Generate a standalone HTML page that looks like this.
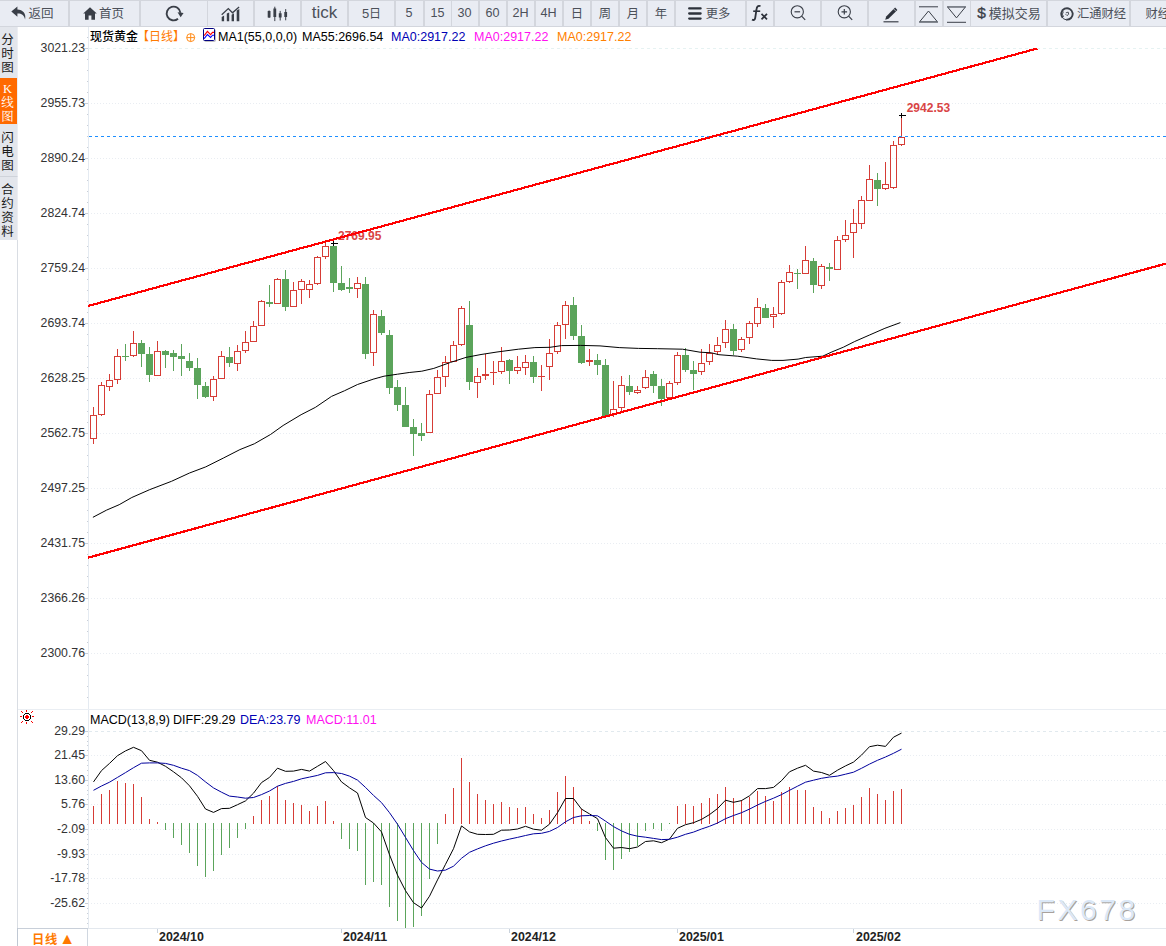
<!DOCTYPE html>
<html lang="zh"><head><meta charset="utf-8"><title>现货黄金 日线</title>
<style>
html,body{margin:0;padding:0;background:#fff}
body{width:1166px;height:946px;position:relative;overflow:hidden;font-family:"Liberation Sans","Noto Sans CJK SC",sans-serif;color:#333}
#tb{position:absolute;left:0;top:0;width:1166px;height:27px;background:#d3d6dd;overflow:hidden}
.btn{position:absolute;top:1px;height:25px;box-sizing:border-box;background:#e9ecf3;display:flex;align-items:center;justify-content:center;color:#4b5059;white-space:nowrap;overflow:hidden}
.btn .tx{position:relative;top:-1px}
.btn svg{display:block;flex:none;margin-right:2px}
#side{position:absolute;left:0;top:27px;width:17px}
#side div{border-right:1px solid #eceef3;width:18px;padding-right:2px;text-align:center;font-size:12.5px;line-height:14px;color:#1a1a1a;font-weight:400;background:#e3e6ec;box-sizing:border-box}
.yl{position:absolute;left:18px;width:67px;text-align:right;font-size:12.3px;line-height:14px;height:14px;color:#333;white-space:nowrap}
.dt{position:absolute;top:930px;font-size:12.4px;line-height:14px;font-weight:bold;color:#222;white-space:nowrap}
.t{position:absolute;white-space:nowrap;font-size:12.5px;line-height:14px}
svg.full{position:absolute;left:0;top:0}
</style></head><body>
<div id="tb">
<div class="btn" style="left:0px;width:68px;padding-right:3px"><svg style="margin-right:1px;margin-top:-2px" width="16" height="14" viewBox="0 0 15 13"><path d="M6 0.5 L0.3 5.2 L6 10 V7 C9.5 6.8 12 8 13.2 12.5 C14.5 7 11 3.4 6 3.2 Z" fill="#3a3f48"/></svg><span class="tx" style="font-size:12.5px">返回</span></div>
<div class="btn" style="left:70px;width:69px;padding-right:2px"><svg style="margin-right:2px" width="14" height="13" viewBox="0 0 14 13"><path d="M7 0.3 L0.2 6.6 H2 V12.8 H5.6 V8.6 H8.4 V12.8 H12 V6.6 H13.8 Z" fill="#3a3f48"/></svg><span class="tx" style="font-size:12.5px">首页</span></div>
<div class="btn" style="left:141px;width:66px;"><svg style="margin-right:1px" width="20" height="19" viewBox="0 0 18 17"><path d="M14.78 7.96 A6.2 6.2 0 1 0 12.6 13.25" fill="none" stroke="#3a3f48" stroke-width="1.7"/><path d="M12.2 7.4 L17.6 8.0 L15.0 11.8 Z" fill="#3a3f48"/></svg></div>
<div class="btn" style="left:208px;width:45px;"><svg style="margin-right:1px" width="19" height="16" viewBox="0 0 19 16"><path d="M0.7 8.7 L7.3 2.6 L11.5 6.8 L18.1 1.1" fill="none" stroke="#3a3f48" stroke-width="1.3"/><path d="M0.7 15.2V10.9L3.1 9.6V15.2Z M5.8 15.2V7.4L8.2 6.6V15.2Z M10.6 15.2V8.8L13 7.2V15.2Z M15.7 15.2V4.6L18.3 2.9V15.2Z" fill="#3a3f48"/></svg></div>
<div class="btn" style="left:255px;width:45px;"><svg style="margin-right:1px" width="21" height="16" viewBox="0 0 21 16"><path d="M2.1 4.4v7.6M7.8 0.7v14.4M13.2 4.9v9.6M18.7 3.1v11.2" stroke="#3a3f48" stroke-width="1" fill="none"/><path d="M2.1 4.9v6.6M7.8 2.5v8.4M13.2 7.3v4.2M18.7 6.1v5" stroke="#3a3f48" stroke-width="2.8" fill="none"/></svg></div>
<div class="btn" style="left:302px;width:45px;"><span class="tx" style="font-size:17px">tick</span></div>
<div class="btn" style="left:349px;width:45px;"><span class="tx" style="font-size:13px">5<span style="font-size:12px">日</span></span></div>
<div class="btn" style="left:396px;width:27px;padding-right:1px"><span class="tx" style="font-size:12.6px">5</span></div>
<div class="btn" style="left:425px;width:26px;padding-right:1px"><span class="tx" style="font-size:12.6px">15</span></div>
<div class="btn" style="left:452px;width:26px;padding-right:1px"><span class="tx" style="font-size:12.6px">30</span></div>
<div class="btn" style="left:480px;width:26px;padding-right:1px"><span class="tx" style="font-size:12.6px">60</span></div>
<div class="btn" style="left:508px;width:26px;padding-right:1px"><span class="tx" style="font-size:12.6px">2H</span></div>
<div class="btn" style="left:536px;width:26px;padding-right:1px"><span class="tx" style="font-size:12.6px">4H</span></div>
<div class="btn" style="left:564px;width:26px;"><span class="tx" style="font-size:12.3px">日</span></div>
<div class="btn" style="left:592px;width:26px;"><span class="tx" style="font-size:12.3px">周</span></div>
<div class="btn" style="left:620px;width:26px;"><span class="tx" style="font-size:12.3px">月</span></div>
<div class="btn" style="left:648px;width:26px;"><span class="tx" style="font-size:12.3px">年</span></div>
<div class="btn" style="left:676px;width:69px;padding-right:4px"><svg style="margin-right:4px;margin-left:1px" width="14" height="13" viewBox="0 0 14 13"><path d="M1.2 1.4h11.4M1.2 6.5h11.4M1.2 11.6h11.4" stroke="#2d323b" stroke-width="2.3" stroke-linecap="round"/></svg><span class="tx" style="font-size:12.3px">更多</span></div>
<div class="btn" style="left:747px;width:26px;"><svg style="margin-top:-2px;margin-right:1px" width="18" height="16" viewBox="0 0 18 16"><path d="M9.5 1.2 C6.5 0.2 5.8 2 5.5 4.5 L4.2 13 C3.9 15 2.6 15.4 1 14.6" fill="none" stroke="#2d323b" stroke-width="1.8"/><path d="M2.2 6.2h7" stroke="#2d323b" stroke-width="1.6"/><path d="M10.5 8.8l5.5 5.5M16 8.8l-5.5 5.5" stroke="#2d323b" stroke-width="1.7"/></svg></div>
<div class="btn" style="left:775px;width:45px;"><svg style="margin-left:3px;margin-top:-1px" width="17" height="16" viewBox="0 0 17 16"><circle cx="7.3" cy="6.8" r="6.1" fill="none" stroke="#3a3f48" stroke-width="1.1"/><path d="M11.6 11.2L15.2 14.8" stroke="#3a3f48" stroke-width="1.2"/><path d="M4.5 6.8h5.6" stroke="#3a3f48" stroke-width="1.2"/></svg></div>
<div class="btn" style="left:822px;width:45px;"><svg style="margin-left:3px;margin-top:-1px" width="17" height="16" viewBox="0 0 17 16"><circle cx="7.3" cy="6.8" r="6.1" fill="none" stroke="#3a3f48" stroke-width="1.1"/><path d="M11.6 11.2L15.2 14.8" stroke="#3a3f48" stroke-width="1.2"/><path d="M4.5 6.8h5.6M7.3 4v5.6" stroke="#3a3f48" stroke-width="1.2"/></svg></div>
<div class="btn" style="left:869px;width:45px;"><svg style="margin-top:1px" width="16" height="17" viewBox="0 0 16 17"><path d="M2.2 13.8 L3.2 10.5 L12.1 1.6 L14.4 3.9 L5.5 12.8 Z" fill="#2d323b"/><path d="M10.6 2.9 L13.1 5.4" stroke="#e9ecf3" stroke-width="0.7"/><path d="M0.5 15.8h15" stroke="#3a3f48" stroke-width="1.2"/></svg></div>
<div class="btn" style="left:916px;width:26px;"><svg width="21" height="18" viewBox="0 0 21 18"><path d="M1 1.8h19" stroke="#3a3f48" stroke-width="1"/><path d="M10.5 6 L1.6 16.8 H19.4 Z" fill="none" stroke="#3a3f48" stroke-width="1"/><path d="M1 17.3h19" stroke="#7d828b" stroke-width="1.2"/></svg></div>
<div class="btn" style="left:944px;width:26px;"><svg width="21" height="18" viewBox="0 0 21 18"><path d="M1 17.3h19" stroke="#3a3f48" stroke-width="1"/><path d="M10.5 12.9 L1.6 2 H19.4 Z" fill="none" stroke="#3a3f48" stroke-width="1"/><path d="M1 1.6h19" stroke="#7d828b" stroke-width="1.2"/></svg></div>
<div class="btn" style="left:971px;width:75px;"><span style="font:normal 15.5px 'Liberation Sans',sans-serif;-webkit-text-stroke:0.35px #3a3f48;color:#3a3f48;margin-right:3px;margin-left:1px;position:relative;top:-0.5px">$</span><span class="tx" style="font-size:13px">模拟交易</span></div>
<div class="btn" style="left:1048px;width:81px;padding-left:9px"><svg style="margin-right:2px" width="15" height="14" viewBox="0 0 15 14"><path d="M2.6 10.6 A5.7 5.7 0 1 1 6.2 12.6" fill="none" stroke="#3a3f48" stroke-width="1.9"/><path d="M6.6 12.9 A6 6 0 0 1 1.6 9.2" fill="none" stroke="#3a3f48" stroke-width="1"/><path d="M3.6 9.8 A4 4 0 0 1 3.4 4.6" fill="none" stroke="#3a3f48" stroke-width="0.9"/><path d="M5.8 5.9 L8.2 5.1 L8.7 7.2 L7 8.6 L5.6 7.2" fill="none" stroke="#3a3f48" stroke-width="0.9"/></svg><span class="tx" style="font-size:12.3px">汇通财经</span></div>
<div class="btn" style="left:1131px;width:60px;justify-content:flex-start;padding-left:14.5px"><span class="tx" style="font-size:12.3px">财经</span></div>
</div>
<div id="side">
<div style="height:51px;padding-top:6px">分<br>时<br>图</div>
<div style="height:46px;padding-top:4px;background:#ff6a00;color:#fff;font-family:'Liberation Serif','Noto Serif CJK SC',serif">K<br>线<br>图</div>
<div style="height:53px;padding-top:7px;border-bottom:1px solid #cfd3da">闪<br>电<br>图</div>
<div style="height:63px;padding-top:6px">合<br>约<br>资<br>料</div>
</div>
<svg class="full" width="1166" height="946" viewBox="0 0 1166 946" shape-rendering="crispEdges">
<line x1="89" y1="48.5" x2="1166" y2="48.5" stroke="#e6f2f2" stroke-dasharray="3 3"/>
<line x1="91" y1="103.5" x2="1166" y2="103.5" stroke="#e9edf2" stroke-dasharray="1 2"/>
<line x1="91" y1="158.5" x2="1166" y2="158.5" stroke="#e9edf2" stroke-dasharray="1 2"/>
<line x1="91" y1="213.5" x2="1166" y2="213.5" stroke="#e9edf2" stroke-dasharray="1 2"/>
<line x1="91" y1="268.5" x2="1166" y2="268.5" stroke="#e9edf2" stroke-dasharray="1 2"/>
<line x1="91" y1="323.5" x2="1166" y2="323.5" stroke="#e9edf2" stroke-dasharray="1 2"/>
<line x1="91" y1="378.5" x2="1166" y2="378.5" stroke="#e9edf2" stroke-dasharray="1 2"/>
<line x1="91" y1="433.5" x2="1166" y2="433.5" stroke="#e9edf2" stroke-dasharray="1 2"/>
<line x1="91" y1="488.5" x2="1166" y2="488.5" stroke="#e9edf2" stroke-dasharray="1 2"/>
<line x1="91" y1="543.5" x2="1166" y2="543.5" stroke="#e9edf2" stroke-dasharray="1 2"/>
<line x1="91" y1="598.5" x2="1166" y2="598.5" stroke="#e9edf2" stroke-dasharray="1 2"/>
<line x1="91" y1="653.5" x2="1166" y2="653.5" stroke="#e9edf2" stroke-dasharray="1 2"/>
<line x1="88.5" y1="27" x2="88.5" y2="928" stroke="#e4eaf1"/>
<rect x="87" y="37" width="1" height="1" fill="#c9ced6"/>
<rect x="85" y="48" width="3" height="1" fill="#c9ced6"/>
<rect x="87" y="59" width="1" height="1" fill="#c9ced6"/>
<rect x="87" y="70" width="1" height="1" fill="#c9ced6"/>
<rect x="87" y="81" width="1" height="1" fill="#c9ced6"/>
<rect x="87" y="92" width="1" height="1" fill="#c9ced6"/>
<rect x="85" y="103" width="3" height="1" fill="#c9ced6"/>
<rect x="87" y="114" width="1" height="1" fill="#c9ced6"/>
<rect x="87" y="125" width="1" height="1" fill="#c9ced6"/>
<rect x="87" y="136" width="1" height="1" fill="#c9ced6"/>
<rect x="87" y="147" width="1" height="1" fill="#c9ced6"/>
<rect x="85" y="158" width="3" height="1" fill="#c9ced6"/>
<rect x="87" y="169" width="1" height="1" fill="#c9ced6"/>
<rect x="87" y="180" width="1" height="1" fill="#c9ced6"/>
<rect x="87" y="191" width="1" height="1" fill="#c9ced6"/>
<rect x="87" y="202" width="1" height="1" fill="#c9ced6"/>
<rect x="85" y="213" width="3" height="1" fill="#c9ced6"/>
<rect x="87" y="224" width="1" height="1" fill="#c9ced6"/>
<rect x="87" y="235" width="1" height="1" fill="#c9ced6"/>
<rect x="87" y="246" width="1" height="1" fill="#c9ced6"/>
<rect x="87" y="257" width="1" height="1" fill="#c9ced6"/>
<rect x="85" y="268" width="3" height="1" fill="#c9ced6"/>
<rect x="87" y="279" width="1" height="1" fill="#c9ced6"/>
<rect x="87" y="290" width="1" height="1" fill="#c9ced6"/>
<rect x="87" y="301" width="1" height="1" fill="#c9ced6"/>
<rect x="87" y="312" width="1" height="1" fill="#c9ced6"/>
<rect x="85" y="323" width="3" height="1" fill="#c9ced6"/>
<rect x="87" y="334" width="1" height="1" fill="#c9ced6"/>
<rect x="87" y="345" width="1" height="1" fill="#c9ced6"/>
<rect x="87" y="356" width="1" height="1" fill="#c9ced6"/>
<rect x="87" y="367" width="1" height="1" fill="#c9ced6"/>
<rect x="85" y="378" width="3" height="1" fill="#c9ced6"/>
<rect x="87" y="389" width="1" height="1" fill="#c9ced6"/>
<rect x="87" y="400" width="1" height="1" fill="#c9ced6"/>
<rect x="87" y="411" width="1" height="1" fill="#c9ced6"/>
<rect x="87" y="422" width="1" height="1" fill="#c9ced6"/>
<rect x="85" y="433" width="3" height="1" fill="#c9ced6"/>
<rect x="87" y="444" width="1" height="1" fill="#c9ced6"/>
<rect x="87" y="455" width="1" height="1" fill="#c9ced6"/>
<rect x="87" y="466" width="1" height="1" fill="#c9ced6"/>
<rect x="87" y="477" width="1" height="1" fill="#c9ced6"/>
<rect x="85" y="488" width="3" height="1" fill="#c9ced6"/>
<rect x="87" y="499" width="1" height="1" fill="#c9ced6"/>
<rect x="87" y="510" width="1" height="1" fill="#c9ced6"/>
<rect x="87" y="521" width="1" height="1" fill="#c9ced6"/>
<rect x="87" y="532" width="1" height="1" fill="#c9ced6"/>
<rect x="85" y="543" width="3" height="1" fill="#c9ced6"/>
<rect x="87" y="554" width="1" height="1" fill="#c9ced6"/>
<rect x="87" y="565" width="1" height="1" fill="#c9ced6"/>
<rect x="87" y="576" width="1" height="1" fill="#c9ced6"/>
<rect x="87" y="587" width="1" height="1" fill="#c9ced6"/>
<rect x="85" y="598" width="3" height="1" fill="#c9ced6"/>
<rect x="87" y="609" width="1" height="1" fill="#c9ced6"/>
<rect x="87" y="620" width="1" height="1" fill="#c9ced6"/>
<rect x="87" y="631" width="1" height="1" fill="#c9ced6"/>
<rect x="87" y="642" width="1" height="1" fill="#c9ced6"/>
<rect x="85" y="653" width="3" height="1" fill="#c9ced6"/>
<rect x="87" y="664" width="1" height="1" fill="#c9ced6"/>
<rect x="87" y="675" width="1" height="1" fill="#c9ced6"/>
<rect x="87" y="686" width="1" height="1" fill="#c9ced6"/>
<rect x="87" y="697" width="1" height="1" fill="#c9ced6"/>
<line x1="89" y1="731.5" x2="1166" y2="731.5" stroke="#e1e9ee" stroke-dasharray="3 3"/>
<line x1="91" y1="755.5" x2="1166" y2="755.5" stroke="#e9edf2" stroke-dasharray="1 2"/>
<line x1="91" y1="780.5" x2="1166" y2="780.5" stroke="#e9edf2" stroke-dasharray="1 2"/>
<line x1="91" y1="804.5" x2="1166" y2="804.5" stroke="#e9edf2" stroke-dasharray="1 2"/>
<line x1="91" y1="829.5" x2="1166" y2="829.5" stroke="#e9edf2" stroke-dasharray="1 2"/>
<line x1="91" y1="854.5" x2="1166" y2="854.5" stroke="#e9edf2" stroke-dasharray="1 2"/>
<line x1="91" y1="878.5" x2="1166" y2="878.5" stroke="#e9edf2" stroke-dasharray="1 2"/>
<line x1="91" y1="903.5" x2="1166" y2="903.5" stroke="#e9edf2" stroke-dasharray="1 2"/>
<rect x="85" y="731" width="3" height="1" fill="#c9ced6"/>
<rect x="87" y="736" width="1" height="1" fill="#c9ced6"/>
<rect x="87" y="741" width="1" height="1" fill="#c9ced6"/>
<rect x="87" y="745" width="1" height="1" fill="#c9ced6"/>
<rect x="87" y="750" width="1" height="1" fill="#c9ced6"/>
<rect x="85" y="755" width="3" height="1" fill="#c9ced6"/>
<rect x="87" y="760" width="1" height="1" fill="#c9ced6"/>
<rect x="87" y="765" width="1" height="1" fill="#c9ced6"/>
<rect x="87" y="770" width="1" height="1" fill="#c9ced6"/>
<rect x="87" y="775" width="1" height="1" fill="#c9ced6"/>
<rect x="85" y="780" width="3" height="1" fill="#c9ced6"/>
<rect x="87" y="785" width="1" height="1" fill="#c9ced6"/>
<rect x="87" y="790" width="1" height="1" fill="#c9ced6"/>
<rect x="87" y="794" width="1" height="1" fill="#c9ced6"/>
<rect x="87" y="799" width="1" height="1" fill="#c9ced6"/>
<rect x="85" y="804" width="3" height="1" fill="#c9ced6"/>
<rect x="87" y="809" width="1" height="1" fill="#c9ced6"/>
<rect x="87" y="814" width="1" height="1" fill="#c9ced6"/>
<rect x="87" y="819" width="1" height="1" fill="#c9ced6"/>
<rect x="87" y="824" width="1" height="1" fill="#c9ced6"/>
<rect x="85" y="829" width="3" height="1" fill="#c9ced6"/>
<rect x="87" y="834" width="1" height="1" fill="#c9ced6"/>
<rect x="87" y="839" width="1" height="1" fill="#c9ced6"/>
<rect x="87" y="844" width="1" height="1" fill="#c9ced6"/>
<rect x="87" y="849" width="1" height="1" fill="#c9ced6"/>
<rect x="85" y="854" width="3" height="1" fill="#c9ced6"/>
<rect x="87" y="859" width="1" height="1" fill="#c9ced6"/>
<rect x="87" y="864" width="1" height="1" fill="#c9ced6"/>
<rect x="87" y="868" width="1" height="1" fill="#c9ced6"/>
<rect x="87" y="873" width="1" height="1" fill="#c9ced6"/>
<rect x="85" y="878" width="3" height="1" fill="#c9ced6"/>
<rect x="87" y="883" width="1" height="1" fill="#c9ced6"/>
<rect x="87" y="888" width="1" height="1" fill="#c9ced6"/>
<rect x="87" y="893" width="1" height="1" fill="#c9ced6"/>
<rect x="87" y="898" width="1" height="1" fill="#c9ced6"/>
<rect x="85" y="903" width="3" height="1" fill="#c9ced6"/>
<rect x="87" y="908" width="1" height="1" fill="#c9ced6"/>
<rect x="87" y="913" width="1" height="1" fill="#c9ced6"/>
<rect x="87" y="918" width="1" height="1" fill="#c9ced6"/>
<rect x="87" y="923" width="1" height="1" fill="#c9ced6"/>
<line x1="18" y1="709.5" x2="1166" y2="709.5" stroke="#eaeef3"/>
<line x1="18" y1="928.5" x2="1166" y2="928.5" stroke="#e3e8ee"/>
<line x1="17.5" y1="240" x2="17.5" y2="946" stroke="#d9dde3"/>
<line x1="87.5" y1="928" x2="87.5" y2="946" stroke="#d0d7e0"/>
<line x1="17" y1="928.5" x2="88" y2="928.5" stroke="#c8cfd9"/>
<line x1="17.5" y1="928" x2="17.5" y2="946" stroke="#c0c8d3"/>
<line x1="157.5" y1="929" x2="157.5" y2="933" stroke="#c9d2dc"/>
<line x1="341.5" y1="929" x2="341.5" y2="933" stroke="#c9d2dc"/>
<line x1="509.5" y1="929" x2="509.5" y2="933" stroke="#c9d2dc"/>
<line x1="677.5" y1="929" x2="677.5" y2="933" stroke="#c9d2dc"/>
<line x1="853.5" y1="929" x2="853.5" y2="933" stroke="#c9d2dc"/>
<rect x="93" y="407" width="1" height="8" fill="#d63c36"/>
<rect x="93" y="439" width="1" height="5" fill="#d63c36"/>
<rect x="90.5" y="415.5" width="6" height="23" fill="none" stroke="#d63c36"/>
<rect x="101" y="382" width="1" height="3" fill="#d63c36"/>
<rect x="101" y="415" width="1" height="1" fill="#d63c36"/>
<rect x="98.5" y="385.5" width="6" height="29" fill="none" stroke="#d63c36"/>
<rect x="109" y="374" width="1" height="6" fill="#d63c36"/>
<rect x="109" y="387" width="1" height="4" fill="#d63c36"/>
<rect x="106.5" y="380.5" width="6" height="6" fill="none" stroke="#d63c36"/>
<rect x="117" y="349" width="1" height="7" fill="#d63c36"/>
<rect x="117" y="380" width="1" height="4" fill="#d63c36"/>
<rect x="114.5" y="356.5" width="6" height="23" fill="none" stroke="#d63c36"/>
<rect x="125" y="344" width="1" height="17" fill="#5ba45b"/>
<rect x="122" y="356" width="7" height="1" fill="#5ba45b"/>
<rect x="133" y="331" width="1" height="12" fill="#d63c36"/>
<rect x="133" y="356" width="1" height="1" fill="#d63c36"/>
<rect x="130.5" y="343.5" width="6" height="12" fill="none" stroke="#d63c36"/>
<rect x="141" y="340" width="1" height="27" fill="#5ba45b"/>
<rect x="138" y="343" width="7" height="11" fill="#5ba45b"/>
<rect x="149" y="347" width="1" height="35" fill="#5ba45b"/>
<rect x="146" y="354" width="7" height="21" fill="#5ba45b"/>
<rect x="157" y="341" width="1" height="10" fill="#d63c36"/>
<rect x="154.5" y="351.5" width="6" height="24" fill="none" stroke="#d63c36"/>
<rect x="165" y="350" width="1" height="18" fill="#5ba45b"/>
<rect x="162" y="351" width="7" height="4" fill="#5ba45b"/>
<rect x="173" y="350" width="1" height="21" fill="#5ba45b"/>
<rect x="170" y="353" width="7" height="4" fill="#5ba45b"/>
<rect x="181" y="344" width="1" height="32" fill="#5ba45b"/>
<rect x="178" y="356" width="7" height="3" fill="#5ba45b"/>
<rect x="189" y="353" width="1" height="18" fill="#5ba45b"/>
<rect x="186" y="361" width="7" height="7" fill="#5ba45b"/>
<rect x="197" y="358" width="1" height="41" fill="#5ba45b"/>
<rect x="194" y="368" width="7" height="17" fill="#5ba45b"/>
<rect x="205" y="382" width="1" height="16" fill="#5ba45b"/>
<rect x="202" y="386" width="7" height="11" fill="#5ba45b"/>
<rect x="213" y="376" width="1" height="3" fill="#d63c36"/>
<rect x="213" y="397" width="1" height="4" fill="#d63c36"/>
<rect x="210.5" y="379.5" width="6" height="17" fill="none" stroke="#d63c36"/>
<rect x="221" y="351" width="1" height="5" fill="#d63c36"/>
<rect x="218.5" y="356.5" width="6" height="22" fill="none" stroke="#d63c36"/>
<rect x="229" y="347" width="1" height="20" fill="#5ba45b"/>
<rect x="226" y="357" width="7" height="6" fill="#5ba45b"/>
<rect x="237" y="345" width="1" height="6" fill="#d63c36"/>
<rect x="237" y="364" width="1" height="7" fill="#d63c36"/>
<rect x="234.5" y="351.5" width="6" height="12" fill="none" stroke="#d63c36"/>
<rect x="245" y="331" width="1" height="11" fill="#d63c36"/>
<rect x="245" y="351" width="1" height="2" fill="#d63c36"/>
<rect x="242.5" y="342.5" width="6" height="8" fill="none" stroke="#d63c36"/>
<rect x="253" y="321" width="1" height="5" fill="#d63c36"/>
<rect x="250.5" y="326.5" width="6" height="15" fill="none" stroke="#d63c36"/>
<rect x="261" y="300" width="1" height="1" fill="#d63c36"/>
<rect x="258.5" y="301.5" width="6" height="24" fill="none" stroke="#d63c36"/>
<rect x="269" y="285" width="1" height="22" fill="#5ba45b"/>
<rect x="266" y="302" width="7" height="2" fill="#5ba45b"/>
<rect x="277" y="278" width="1" height="1" fill="#d63c36"/>
<rect x="274.5" y="279.5" width="6" height="24" fill="none" stroke="#d63c36"/>
<rect x="285" y="270" width="1" height="41" fill="#5ba45b"/>
<rect x="282" y="279" width="7" height="28" fill="#5ba45b"/>
<rect x="293" y="282" width="1" height="8" fill="#d63c36"/>
<rect x="290.5" y="290.5" width="6" height="16" fill="none" stroke="#d63c36"/>
<rect x="301" y="279" width="1" height="2" fill="#d63c36"/>
<rect x="301" y="290" width="1" height="14" fill="#d63c36"/>
<rect x="298.5" y="281.5" width="6" height="8" fill="none" stroke="#d63c36"/>
<rect x="309" y="280" width="1" height="4" fill="#d63c36"/>
<rect x="309" y="290" width="1" height="8" fill="#d63c36"/>
<rect x="306.5" y="284.5" width="6" height="5" fill="none" stroke="#d63c36"/>
<rect x="317" y="256" width="1" height="1" fill="#d63c36"/>
<rect x="317" y="284" width="1" height="1" fill="#d63c36"/>
<rect x="314.5" y="257.5" width="6" height="26" fill="none" stroke="#d63c36"/>
<rect x="325" y="243" width="1" height="3" fill="#d63c36"/>
<rect x="325" y="257" width="1" height="2" fill="#d63c36"/>
<rect x="322.5" y="246.5" width="6" height="10" fill="none" stroke="#d63c36"/>
<rect x="333" y="242" width="1" height="50" fill="#5ba45b"/>
<rect x="330" y="246" width="7" height="37" fill="#5ba45b"/>
<rect x="341" y="266" width="1" height="25" fill="#5ba45b"/>
<rect x="338" y="283" width="7" height="7" fill="#5ba45b"/>
<rect x="349" y="278" width="1" height="15" fill="#5ba45b"/>
<rect x="346" y="287" width="7" height="2" fill="#5ba45b"/>
<rect x="357" y="277" width="1" height="6" fill="#d63c36"/>
<rect x="357" y="289" width="1" height="9" fill="#d63c36"/>
<rect x="354.5" y="283.5" width="6" height="5" fill="none" stroke="#d63c36"/>
<rect x="365" y="277" width="1" height="82" fill="#5ba45b"/>
<rect x="362" y="284" width="7" height="70" fill="#5ba45b"/>
<rect x="373" y="310" width="1" height="4" fill="#d63c36"/>
<rect x="373" y="353" width="1" height="13" fill="#d63c36"/>
<rect x="370.5" y="314.5" width="6" height="38" fill="none" stroke="#d63c36"/>
<rect x="381" y="310" width="1" height="25" fill="#5ba45b"/>
<rect x="378" y="316" width="7" height="17" fill="#5ba45b"/>
<rect x="389" y="330" width="1" height="64" fill="#5ba45b"/>
<rect x="386" y="335" width="7" height="53" fill="#5ba45b"/>
<rect x="397" y="380" width="1" height="31" fill="#5ba45b"/>
<rect x="394" y="387" width="7" height="18" fill="#5ba45b"/>
<rect x="405" y="387" width="1" height="40" fill="#5ba45b"/>
<rect x="402" y="405" width="7" height="22" fill="#5ba45b"/>
<rect x="413" y="419" width="1" height="37" fill="#5ba45b"/>
<rect x="410" y="427" width="7" height="7" fill="#5ba45b"/>
<rect x="421" y="423" width="1" height="18" fill="#5ba45b"/>
<rect x="418" y="433" width="7" height="3" fill="#5ba45b"/>
<rect x="429" y="390" width="1" height="4" fill="#d63c36"/>
<rect x="426.5" y="394.5" width="6" height="38" fill="none" stroke="#d63c36"/>
<rect x="437" y="370" width="1" height="7" fill="#d63c36"/>
<rect x="434.5" y="377.5" width="6" height="16" fill="none" stroke="#d63c36"/>
<rect x="445" y="356" width="1" height="6" fill="#d63c36"/>
<rect x="445" y="377" width="1" height="10" fill="#d63c36"/>
<rect x="442.5" y="362.5" width="6" height="14" fill="none" stroke="#d63c36"/>
<rect x="453" y="341" width="1" height="4" fill="#d63c36"/>
<rect x="450.5" y="345.5" width="6" height="16" fill="none" stroke="#d63c36"/>
<rect x="461" y="306" width="1" height="2" fill="#d63c36"/>
<rect x="461" y="345" width="1" height="1" fill="#d63c36"/>
<rect x="458.5" y="308.5" width="6" height="36" fill="none" stroke="#d63c36"/>
<rect x="469" y="301" width="1" height="89" fill="#5ba45b"/>
<rect x="466" y="325" width="7" height="57" fill="#5ba45b"/>
<rect x="477" y="368" width="1" height="8" fill="#d63c36"/>
<rect x="477" y="383" width="1" height="15" fill="#d63c36"/>
<rect x="474.5" y="376.5" width="6" height="6" fill="none" stroke="#d63c36"/>
<rect x="485" y="354" width="1" height="20" fill="#d63c36"/>
<rect x="485" y="376" width="1" height="4" fill="#d63c36"/>
<rect x="482" y="374" width="7" height="2" fill="#d63c36"/>
<rect x="493" y="361" width="1" height="11" fill="#d63c36"/>
<rect x="493" y="373" width="1" height="12" fill="#d63c36"/>
<rect x="490" y="372" width="7" height="1" fill="#d63c36"/>
<rect x="501" y="347" width="1" height="14" fill="#d63c36"/>
<rect x="501" y="372" width="1" height="2" fill="#d63c36"/>
<rect x="498.5" y="361.5" width="6" height="10" fill="none" stroke="#d63c36"/>
<rect x="509" y="359" width="1" height="25" fill="#5ba45b"/>
<rect x="506" y="360" width="7" height="11" fill="#5ba45b"/>
<rect x="517" y="356" width="1" height="11" fill="#d63c36"/>
<rect x="517" y="371" width="1" height="3" fill="#d63c36"/>
<rect x="514.5" y="367.5" width="6" height="3" fill="none" stroke="#d63c36"/>
<rect x="525" y="355" width="1" height="7" fill="#d63c36"/>
<rect x="525" y="368" width="1" height="7" fill="#d63c36"/>
<rect x="522.5" y="362.5" width="6" height="5" fill="none" stroke="#d63c36"/>
<rect x="533" y="356" width="1" height="27" fill="#5ba45b"/>
<rect x="530" y="362" width="7" height="15" fill="#5ba45b"/>
<rect x="541" y="365" width="1" height="11" fill="#d63c36"/>
<rect x="541" y="377" width="1" height="14" fill="#d63c36"/>
<rect x="538" y="376" width="7" height="1" fill="#d63c36"/>
<rect x="549" y="339" width="1" height="14" fill="#d63c36"/>
<rect x="549" y="367" width="1" height="13" fill="#d63c36"/>
<rect x="546.5" y="353.5" width="6" height="13" fill="none" stroke="#d63c36"/>
<rect x="557" y="322" width="1" height="3" fill="#d63c36"/>
<rect x="557" y="352" width="1" height="2" fill="#d63c36"/>
<rect x="554.5" y="325.5" width="6" height="26" fill="none" stroke="#d63c36"/>
<rect x="565" y="301" width="1" height="4" fill="#d63c36"/>
<rect x="565" y="325" width="1" height="14" fill="#d63c36"/>
<rect x="562.5" y="305.5" width="6" height="19" fill="none" stroke="#d63c36"/>
<rect x="573" y="297" width="1" height="43" fill="#5ba45b"/>
<rect x="570" y="305" width="7" height="31" fill="#5ba45b"/>
<rect x="581" y="325" width="1" height="39" fill="#5ba45b"/>
<rect x="578" y="336" width="7" height="27" fill="#5ba45b"/>
<rect x="589" y="349" width="1" height="11" fill="#d63c36"/>
<rect x="589" y="362" width="1" height="4" fill="#d63c36"/>
<rect x="586" y="360" width="7" height="2" fill="#d63c36"/>
<rect x="597" y="354" width="1" height="21" fill="#5ba45b"/>
<rect x="594" y="360" width="7" height="5" fill="#5ba45b"/>
<rect x="605" y="359" width="1" height="57" fill="#5ba45b"/>
<rect x="602" y="365" width="7" height="51" fill="#5ba45b"/>
<rect x="613" y="381" width="1" height="28" fill="#d63c36"/>
<rect x="613" y="415" width="1" height="2" fill="#d63c36"/>
<rect x="610.5" y="409.5" width="6" height="5" fill="none" stroke="#d63c36"/>
<rect x="621" y="376" width="1" height="9" fill="#d63c36"/>
<rect x="621" y="408" width="1" height="4" fill="#d63c36"/>
<rect x="618.5" y="385.5" width="6" height="22" fill="none" stroke="#d63c36"/>
<rect x="629" y="375" width="1" height="20" fill="#5ba45b"/>
<rect x="626" y="386" width="7" height="6" fill="#5ba45b"/>
<rect x="637" y="386" width="1" height="4" fill="#d63c36"/>
<rect x="637" y="393" width="1" height="1" fill="#d63c36"/>
<rect x="634.5" y="390.5" width="6" height="2" fill="none" stroke="#d63c36"/>
<rect x="645" y="370" width="1" height="7" fill="#d63c36"/>
<rect x="645" y="388" width="1" height="1" fill="#d63c36"/>
<rect x="642.5" y="377.5" width="6" height="10" fill="none" stroke="#d63c36"/>
<rect x="653" y="371" width="1" height="22" fill="#5ba45b"/>
<rect x="650" y="374" width="7" height="12" fill="#5ba45b"/>
<rect x="661" y="379" width="1" height="27" fill="#5ba45b"/>
<rect x="658" y="386" width="7" height="13" fill="#5ba45b"/>
<rect x="669" y="381" width="1" height="2" fill="#d63c36"/>
<rect x="669" y="398" width="1" height="2" fill="#d63c36"/>
<rect x="666.5" y="383.5" width="6" height="14" fill="none" stroke="#d63c36"/>
<rect x="677" y="352" width="1" height="3" fill="#d63c36"/>
<rect x="677" y="383" width="1" height="2" fill="#d63c36"/>
<rect x="674.5" y="355.5" width="6" height="27" fill="none" stroke="#d63c36"/>
<rect x="685" y="348" width="1" height="24" fill="#5ba45b"/>
<rect x="682" y="355" width="7" height="15" fill="#5ba45b"/>
<rect x="693" y="361" width="1" height="29" fill="#5ba45b"/>
<rect x="690" y="370" width="7" height="4" fill="#5ba45b"/>
<rect x="701" y="349" width="1" height="14" fill="#d63c36"/>
<rect x="701" y="372" width="1" height="3" fill="#d63c36"/>
<rect x="698.5" y="363.5" width="6" height="8" fill="none" stroke="#d63c36"/>
<rect x="709" y="344" width="1" height="9" fill="#d63c36"/>
<rect x="709" y="362" width="1" height="3" fill="#d63c36"/>
<rect x="706.5" y="353.5" width="6" height="8" fill="none" stroke="#d63c36"/>
<rect x="717" y="337" width="1" height="8" fill="#d63c36"/>
<rect x="717" y="352" width="1" height="3" fill="#d63c36"/>
<rect x="714.5" y="345.5" width="6" height="6" fill="none" stroke="#d63c36"/>
<rect x="725" y="320" width="1" height="9" fill="#d63c36"/>
<rect x="725" y="343" width="1" height="5" fill="#d63c36"/>
<rect x="722.5" y="329.5" width="6" height="13" fill="none" stroke="#d63c36"/>
<rect x="733" y="324" width="1" height="31" fill="#5ba45b"/>
<rect x="730" y="329" width="7" height="22" fill="#5ba45b"/>
<rect x="741" y="337" width="1" height="2" fill="#d63c36"/>
<rect x="741" y="350" width="1" height="2" fill="#d63c36"/>
<rect x="738.5" y="339.5" width="6" height="10" fill="none" stroke="#d63c36"/>
<rect x="749" y="321" width="1" height="2" fill="#d63c36"/>
<rect x="749" y="338" width="1" height="6" fill="#d63c36"/>
<rect x="746.5" y="323.5" width="6" height="14" fill="none" stroke="#d63c36"/>
<rect x="757" y="298" width="1" height="9" fill="#d63c36"/>
<rect x="757" y="324" width="1" height="3" fill="#d63c36"/>
<rect x="754.5" y="307.5" width="6" height="16" fill="none" stroke="#d63c36"/>
<rect x="765" y="304" width="1" height="14" fill="#5ba45b"/>
<rect x="762" y="308" width="7" height="10" fill="#5ba45b"/>
<rect x="773" y="307" width="1" height="7" fill="#d63c36"/>
<rect x="773" y="317" width="1" height="11" fill="#d63c36"/>
<rect x="770.5" y="314.5" width="6" height="2" fill="none" stroke="#d63c36"/>
<rect x="781" y="280" width="1" height="2" fill="#d63c36"/>
<rect x="781" y="314" width="1" height="1" fill="#d63c36"/>
<rect x="778.5" y="282.5" width="6" height="31" fill="none" stroke="#d63c36"/>
<rect x="789" y="265" width="1" height="7" fill="#d63c36"/>
<rect x="789" y="282" width="1" height="1" fill="#d63c36"/>
<rect x="786.5" y="272.5" width="6" height="9" fill="none" stroke="#d63c36"/>
<rect x="797" y="269" width="1" height="20" fill="#5ba45b"/>
<rect x="794" y="273" width="7" height="1" fill="#5ba45b"/>
<rect x="805" y="246" width="1" height="14" fill="#d63c36"/>
<rect x="802.5" y="260.5" width="6" height="13" fill="none" stroke="#d63c36"/>
<rect x="813" y="258" width="1" height="35" fill="#5ba45b"/>
<rect x="810" y="261" width="7" height="24" fill="#5ba45b"/>
<rect x="821" y="264" width="1" height="2" fill="#d63c36"/>
<rect x="821" y="286" width="1" height="3" fill="#d63c36"/>
<rect x="818.5" y="266.5" width="6" height="19" fill="none" stroke="#d63c36"/>
<rect x="829" y="263" width="1" height="18" fill="#5ba45b"/>
<rect x="826" y="267" width="7" height="2" fill="#5ba45b"/>
<rect x="837" y="236" width="1" height="4" fill="#d63c36"/>
<rect x="834.5" y="240.5" width="6" height="29" fill="none" stroke="#d63c36"/>
<rect x="845" y="220" width="1" height="15" fill="#d63c36"/>
<rect x="845" y="240" width="1" height="2" fill="#d63c36"/>
<rect x="842.5" y="235.5" width="6" height="4" fill="none" stroke="#d63c36"/>
<rect x="853" y="209" width="1" height="14" fill="#d63c36"/>
<rect x="853" y="233" width="1" height="25" fill="#d63c36"/>
<rect x="850.5" y="223.5" width="6" height="9" fill="none" stroke="#d63c36"/>
<rect x="861" y="196" width="1" height="4" fill="#d63c36"/>
<rect x="861" y="224" width="1" height="5" fill="#d63c36"/>
<rect x="858.5" y="200.5" width="6" height="23" fill="none" stroke="#d63c36"/>
<rect x="869" y="165" width="1" height="14" fill="#d63c36"/>
<rect x="866.5" y="179.5" width="6" height="21" fill="none" stroke="#d63c36"/>
<rect x="877" y="173" width="1" height="33" fill="#5ba45b"/>
<rect x="874" y="180" width="7" height="9" fill="#5ba45b"/>
<rect x="885" y="162" width="1" height="22" fill="#d63c36"/>
<rect x="885" y="189" width="1" height="1" fill="#d63c36"/>
<rect x="882.5" y="184.5" width="6" height="4" fill="none" stroke="#d63c36"/>
<rect x="893" y="141" width="1" height="4" fill="#d63c36"/>
<rect x="893" y="188" width="1" height="1" fill="#d63c36"/>
<rect x="890.5" y="145.5" width="6" height="42" fill="none" stroke="#d63c36"/>
<rect x="901" y="115" width="1" height="22" fill="#d63c36"/>
<rect x="901" y="145" width="1" height="1" fill="#d63c36"/>
<rect x="898.5" y="137.5" width="6" height="7" fill="none" stroke="#d63c36"/>
</svg>
<div class="t" style="left:906.7px;top:101.4px;font-size:12px;font-weight:bold;color:#d94545">2942.53</div>
<div class="t" style="left:338px;top:229px;font-size:12px;font-weight:bold;color:#d94545">2769.95</div>
<svg class="full" width="1166" height="946" viewBox="0 0 1166 946">
<line x1="89" y1="136.5" x2="1166" y2="136.5" stroke="#1e8fff" stroke-dasharray="3 3" shape-rendering="crispEdges"/>
<polyline fill="none" stroke="#000" stroke-width="1" points="92.9,517.3 106.6,510.1 119.2,504.7 131.8,497.5 149.8,489.6 171.5,481.3 189.5,473 205.7,466.9 223.7,457.9 239.9,449.6 254.3,443.8 270.5,434.5 283.1,425.5 301.1,414.7 315.5,407.3 331.5,396.4 344.4,390.8 357.5,384.5 373.2,379.2 384,376.2 397.5,374.2 409.2,372.5 421.8,371.2 433.8,368.4 450.5,362.4 466,357.4 481,354.5 497,352 518.4,349.2 534.9,347.6 550,347.3 561.5,345.6 580.7,345.4 600,345.9 619.2,347.6 638.5,348.4 657.7,348.7 682.5,349.2 700,352.2 711.3,352.8 718.9,354.7 737.7,356.2 756.6,358.9 771.7,360.4 783,360.4 798.1,359.1 805.7,357.5 822.6,356.2 832,351.9 843.4,347.2 854.7,341.5 869.8,334.9 884.9,328.3 900.4,322.6"/>
<line x1="88" y1="306" x2="1037.4" y2="48.5" stroke="#f00" stroke-width="2.2" shape-rendering="crispEdges"/>
<line x1="88" y1="557.7" x2="1166" y2="263.6" stroke="#f00" stroke-width="2.2" shape-rendering="crispEdges"/>
<path d="M331 243.5h7M333.5 241v5M899 115.5h7M901.5 113v5" stroke="#000" fill="none" shape-rendering="crispEdges"/>
<rect x="93" y="806" width="1" height="18" fill="#d63c36" shape-rendering="crispEdges"/>
<rect x="101" y="794" width="1" height="30" fill="#d63c36" shape-rendering="crispEdges"/>
<rect x="109" y="790" width="1" height="34" fill="#d63c36" shape-rendering="crispEdges"/>
<rect x="117" y="781" width="1" height="43" fill="#d63c36" shape-rendering="crispEdges"/>
<rect x="125" y="783" width="1" height="41" fill="#d63c36" shape-rendering="crispEdges"/>
<rect x="133" y="784" width="1" height="40" fill="#d63c36" shape-rendering="crispEdges"/>
<rect x="141" y="797" width="1" height="27" fill="#d63c36" shape-rendering="crispEdges"/>
<rect x="149" y="819" width="1" height="5" fill="#d63c36" shape-rendering="crispEdges"/>
<rect x="157" y="822" width="1" height="2" fill="#d63c36" shape-rendering="crispEdges"/>
<rect x="165" y="823" width="1" height="7" fill="#5ba45b" shape-rendering="crispEdges"/>
<rect x="173" y="823" width="1" height="15" fill="#5ba45b" shape-rendering="crispEdges"/>
<rect x="181" y="823" width="1" height="22" fill="#5ba45b" shape-rendering="crispEdges"/>
<rect x="189" y="823" width="1" height="30" fill="#5ba45b" shape-rendering="crispEdges"/>
<rect x="197" y="823" width="1" height="43" fill="#5ba45b" shape-rendering="crispEdges"/>
<rect x="205" y="823" width="1" height="54" fill="#5ba45b" shape-rendering="crispEdges"/>
<rect x="213" y="823" width="1" height="48" fill="#5ba45b" shape-rendering="crispEdges"/>
<rect x="221" y="823" width="1" height="32" fill="#5ba45b" shape-rendering="crispEdges"/>
<rect x="229" y="823" width="1" height="25" fill="#5ba45b" shape-rendering="crispEdges"/>
<rect x="237" y="823" width="1" height="15" fill="#5ba45b" shape-rendering="crispEdges"/>
<rect x="245" y="823" width="1" height="6" fill="#5ba45b" shape-rendering="crispEdges"/>
<rect x="253" y="816" width="1" height="8" fill="#d63c36" shape-rendering="crispEdges"/>
<rect x="261" y="800" width="1" height="24" fill="#d63c36" shape-rendering="crispEdges"/>
<rect x="269" y="796" width="1" height="28" fill="#d63c36" shape-rendering="crispEdges"/>
<rect x="277" y="786" width="1" height="38" fill="#d63c36" shape-rendering="crispEdges"/>
<rect x="285" y="800" width="1" height="24" fill="#d63c36" shape-rendering="crispEdges"/>
<rect x="293" y="803" width="1" height="21" fill="#d63c36" shape-rendering="crispEdges"/>
<rect x="301" y="805" width="1" height="19" fill="#d63c36" shape-rendering="crispEdges"/>
<rect x="309" y="811" width="1" height="13" fill="#d63c36" shape-rendering="crispEdges"/>
<rect x="317" y="806" width="1" height="18" fill="#d63c36" shape-rendering="crispEdges"/>
<rect x="325" y="801" width="1" height="23" fill="#d63c36" shape-rendering="crispEdges"/>
<rect x="333" y="821" width="1" height="3" fill="#d63c36" shape-rendering="crispEdges"/>
<rect x="341" y="823" width="1" height="16" fill="#5ba45b" shape-rendering="crispEdges"/>
<rect x="349" y="823" width="1" height="26" fill="#5ba45b" shape-rendering="crispEdges"/>
<rect x="357" y="823" width="1" height="28" fill="#5ba45b" shape-rendering="crispEdges"/>
<rect x="365" y="823" width="1" height="62" fill="#5ba45b" shape-rendering="crispEdges"/>
<rect x="373" y="823" width="1" height="59" fill="#5ba45b" shape-rendering="crispEdges"/>
<rect x="381" y="823" width="1" height="62" fill="#5ba45b" shape-rendering="crispEdges"/>
<rect x="389" y="823" width="1" height="84" fill="#5ba45b" shape-rendering="crispEdges"/>
<rect x="397" y="823" width="1" height="98" fill="#5ba45b" shape-rendering="crispEdges"/>
<rect x="405" y="823" width="1" height="105" fill="#5ba45b" shape-rendering="crispEdges"/>
<rect x="413" y="823" width="1" height="104" fill="#5ba45b" shape-rendering="crispEdges"/>
<rect x="421" y="823" width="1" height="93" fill="#5ba45b" shape-rendering="crispEdges"/>
<rect x="429" y="823" width="1" height="56" fill="#5ba45b" shape-rendering="crispEdges"/>
<rect x="437" y="823" width="1" height="21" fill="#5ba45b" shape-rendering="crispEdges"/>
<rect x="445" y="814" width="1" height="10" fill="#d63c36" shape-rendering="crispEdges"/>
<rect x="453" y="788" width="1" height="36" fill="#d63c36" shape-rendering="crispEdges"/>
<rect x="461" y="758" width="1" height="66" fill="#d63c36" shape-rendering="crispEdges"/>
<rect x="469" y="782" width="1" height="42" fill="#d63c36" shape-rendering="crispEdges"/>
<rect x="477" y="794" width="1" height="30" fill="#d63c36" shape-rendering="crispEdges"/>
<rect x="485" y="800" width="1" height="24" fill="#d63c36" shape-rendering="crispEdges"/>
<rect x="493" y="804" width="1" height="20" fill="#d63c36" shape-rendering="crispEdges"/>
<rect x="501" y="802" width="1" height="22" fill="#d63c36" shape-rendering="crispEdges"/>
<rect x="509" y="807" width="1" height="17" fill="#d63c36" shape-rendering="crispEdges"/>
<rect x="517" y="808" width="1" height="16" fill="#d63c36" shape-rendering="crispEdges"/>
<rect x="525" y="807" width="1" height="17" fill="#d63c36" shape-rendering="crispEdges"/>
<rect x="533" y="814" width="1" height="10" fill="#d63c36" shape-rendering="crispEdges"/>
<rect x="541" y="818" width="1" height="6" fill="#d63c36" shape-rendering="crispEdges"/>
<rect x="549" y="810" width="1" height="14" fill="#d63c36" shape-rendering="crispEdges"/>
<rect x="557" y="792" width="1" height="32" fill="#d63c36" shape-rendering="crispEdges"/>
<rect x="565" y="776" width="1" height="48" fill="#d63c36" shape-rendering="crispEdges"/>
<rect x="573" y="787" width="1" height="37" fill="#d63c36" shape-rendering="crispEdges"/>
<rect x="581" y="809" width="1" height="15" fill="#d63c36" shape-rendering="crispEdges"/>
<rect x="589" y="821" width="1" height="3" fill="#d63c36" shape-rendering="crispEdges"/>
<rect x="597" y="823" width="1" height="8" fill="#5ba45b" shape-rendering="crispEdges"/>
<rect x="605" y="823" width="1" height="37" fill="#5ba45b" shape-rendering="crispEdges"/>
<rect x="613" y="823" width="1" height="47" fill="#5ba45b" shape-rendering="crispEdges"/>
<rect x="621" y="823" width="1" height="36" fill="#5ba45b" shape-rendering="crispEdges"/>
<rect x="629" y="823" width="1" height="29" fill="#5ba45b" shape-rendering="crispEdges"/>
<rect x="637" y="823" width="1" height="23" fill="#5ba45b" shape-rendering="crispEdges"/>
<rect x="645" y="823" width="1" height="8" fill="#5ba45b" shape-rendering="crispEdges"/>
<rect x="653" y="823" width="1" height="6" fill="#5ba45b" shape-rendering="crispEdges"/>
<rect x="661" y="823" width="1" height="8" fill="#5ba45b" shape-rendering="crispEdges"/>
<rect x="669" y="823" width="1" height="1" fill="#5ba45b" shape-rendering="crispEdges"/>
<rect x="677" y="806" width="1" height="18" fill="#d63c36" shape-rendering="crispEdges"/>
<rect x="685" y="804" width="1" height="20" fill="#d63c36" shape-rendering="crispEdges"/>
<rect x="693" y="806" width="1" height="18" fill="#d63c36" shape-rendering="crispEdges"/>
<rect x="701" y="803" width="1" height="21" fill="#d63c36" shape-rendering="crispEdges"/>
<rect x="709" y="798" width="1" height="26" fill="#d63c36" shape-rendering="crispEdges"/>
<rect x="717" y="794" width="1" height="30" fill="#d63c36" shape-rendering="crispEdges"/>
<rect x="725" y="787" width="1" height="37" fill="#d63c36" shape-rendering="crispEdges"/>
<rect x="733" y="798" width="1" height="26" fill="#d63c36" shape-rendering="crispEdges"/>
<rect x="741" y="800" width="1" height="24" fill="#d63c36" shape-rendering="crispEdges"/>
<rect x="749" y="797" width="1" height="27" fill="#d63c36" shape-rendering="crispEdges"/>
<rect x="757" y="791" width="1" height="33" fill="#d63c36" shape-rendering="crispEdges"/>
<rect x="765" y="796" width="1" height="28" fill="#d63c36" shape-rendering="crispEdges"/>
<rect x="773" y="801" width="1" height="23" fill="#d63c36" shape-rendering="crispEdges"/>
<rect x="781" y="792" width="1" height="32" fill="#d63c36" shape-rendering="crispEdges"/>
<rect x="789" y="787" width="1" height="37" fill="#d63c36" shape-rendering="crispEdges"/>
<rect x="797" y="790" width="1" height="34" fill="#d63c36" shape-rendering="crispEdges"/>
<rect x="805" y="790" width="1" height="34" fill="#d63c36" shape-rendering="crispEdges"/>
<rect x="813" y="807" width="1" height="17" fill="#d63c36" shape-rendering="crispEdges"/>
<rect x="821" y="811" width="1" height="13" fill="#d63c36" shape-rendering="crispEdges"/>
<rect x="829" y="818" width="1" height="6" fill="#d63c36" shape-rendering="crispEdges"/>
<rect x="837" y="811" width="1" height="13" fill="#d63c36" shape-rendering="crispEdges"/>
<rect x="845" y="808" width="1" height="16" fill="#d63c36" shape-rendering="crispEdges"/>
<rect x="853" y="805" width="1" height="19" fill="#d63c36" shape-rendering="crispEdges"/>
<rect x="861" y="797" width="1" height="27" fill="#d63c36" shape-rendering="crispEdges"/>
<rect x="869" y="788" width="1" height="36" fill="#d63c36" shape-rendering="crispEdges"/>
<rect x="877" y="794" width="1" height="30" fill="#d63c36" shape-rendering="crispEdges"/>
<rect x="885" y="800" width="1" height="24" fill="#d63c36" shape-rendering="crispEdges"/>
<rect x="893" y="791" width="1" height="33" fill="#d63c36" shape-rendering="crispEdges"/>
<rect x="901" y="789" width="1" height="35" fill="#d63c36" shape-rendering="crispEdges"/>
<polyline fill="none" stroke="#000" stroke-width="1" points="93.5,781.9 101.5,770.6 109.5,763.4 117.5,755.7 125.5,750.9 133.5,747.3 141.5,750.7 149.5,760.3 157.5,762.2 165.5,766.3 173.5,771.8 181.5,777.8 189.5,785.8 197.5,796.3 205.5,809 213.5,812.4 221.5,808.6 229.5,808.3 237.5,804.7 245.5,800.9 253.5,793.2 261.5,782.6 269.5,777.4 277.5,768.2 285.5,771.3 293.5,771.1 301.5,769.4 309.5,771.1 317.5,766.3 325.5,761.5 333.5,770.6 341.5,781.9 349.5,787.8 357.5,793 365.5,817.5 373.5,823 381.5,831.9 389.5,854.7 397.5,875.1 405.5,890.7 413.5,902.7 421.5,908 429.5,896.2 437.5,879.9 445.5,864.3 453.5,848.7 461.5,825.9 469.5,831.9 477.5,834.3 485.5,834.5 493.5,834.3 501.5,830.2 509.5,830 517.5,829 525.5,826.3 533.5,829.2 541.5,830.2 549.5,824.2 557.5,812.7 565.5,798.5 573.5,798.5 581.5,809.1 589.5,813.9 597.5,818.7 605.5,837.6 613.5,848.2 621.5,847.5 629.5,848.7 637.5,847 645.5,841.5 653.5,840.8 661.5,842.7 669.5,839.1 677.5,828.3 685.5,824.7 693.5,822.7 701.5,819.4 709.5,814.6 717.5,808.6 725.5,800.2 733.5,802.3 741.5,800.6 749.5,795.8 757.5,788.6 765.5,788.6 773.5,787.4 781.5,780.7 789.5,771.8 797.5,768.2 805.5,765.3 813.5,771.1 821.5,772.5 829.5,775.3 837.5,770.2 845.5,765.9 853.5,762.1 861.5,755.1 869.5,746.7 877.5,745.2 885.5,746.4 893.5,737.2 901.5,733.1"/>
<polyline fill="none" stroke="#00009c" stroke-width="1" points="93.5,790.3 101.5,786 109.5,782.2 117.5,777.4 125.5,772.6 133.5,767.7 141.5,763.2 149.5,762.9 157.5,762.9 165.5,763.4 173.5,765.3 181.5,768.2 189.5,770.6 197.5,775.4 205.5,781.9 213.5,787.9 221.5,792.2 229.5,796.1 237.5,797 245.5,798.2 253.5,797.5 261.5,794.6 269.5,791 277.5,786.2 285.5,783.4 293.5,781.4 301.5,778.8 309.5,777.1 317.5,775.4 325.5,772.8 333.5,772.6 341.5,773.5 349.5,776.1 357.5,780.1 365.5,787.4 373.5,795.4 381.5,802.6 389.5,812.7 397.5,824.2 405.5,837.4 413.5,850.6 421.5,862.4 429.5,869.1 437.5,871 445.5,870.1 453.5,866.2 461.5,858.3 469.5,852.3 477.5,848.9 485.5,845.8 493.5,843.2 501.5,841 509.5,839.1 517.5,837.4 525.5,835.5 533.5,833.8 541.5,833.3 549.5,831.4 557.5,827.5 565.5,821.8 573.5,817.5 581.5,815.8 589.5,815.5 597.5,815.8 605.5,821.1 613.5,826.6 621.5,830.9 629.5,834.3 637.5,836.2 645.5,837.2 653.5,838.4 661.5,839.6 669.5,839.3 677.5,837.2 685.5,834.3 693.5,832.1 701.5,829 709.5,826.3 717.5,823 725.5,818.7 733.5,815.5 741.5,812.7 749.5,809.1 757.5,805 765.5,801.4 773.5,798.2 781.5,794.6 789.5,790.3 797.5,786.2 805.5,782.2 813.5,780.2 821.5,778.3 829.5,777 837.5,776.1 845.5,774.2 853.5,772.2 861.5,768.3 869.5,764.1 877.5,760.3 885.5,757 893.5,753.3 901.5,749.2"/>
</svg>
<div class="yl" style="top:41px">3021.23</div>
<div class="yl" style="top:96px">2955.73</div>
<div class="yl" style="top:151px">2890.24</div>
<div class="yl" style="top:206px">2824.74</div>
<div class="yl" style="top:261px">2759.24</div>
<div class="yl" style="top:316px">2693.74</div>
<div class="yl" style="top:371px">2628.25</div>
<div class="yl" style="top:426px">2562.75</div>
<div class="yl" style="top:481px">2497.25</div>
<div class="yl" style="top:536px">2431.75</div>
<div class="yl" style="top:591px">2366.26</div>
<div class="yl" style="top:646px">2300.76</div>
<div class="yl" style="top:724px">29.29</div>
<div class="yl" style="top:748px">21.45</div>
<div class="yl" style="top:773px">13.60</div>
<div class="yl" style="top:797px">5.76</div>
<div class="yl" style="top:822px">-2.09</div>
<div class="yl" style="top:847px">-9.93</div>
<div class="yl" style="top:871px">-17.78</div>
<div class="yl" style="top:896px">-25.62</div>
<div class="dt" style="left:159px">2024/10</div>
<div class="dt" style="left:343px">2024/11</div>
<div class="dt" style="left:511px">2024/12</div>
<div class="dt" style="left:679px">2025/01</div>
<div class="dt" style="left:856px">2025/02</div>
<div class="t" style="left:90px;top:29.5px;font-size:12px;font-weight:500;color:#000">现货黄金</div>
<div class="t" style="left:137px;top:29.5px;font-size:12px;color:#ff7a00">【日线】</div>
<svg class="full" style="left:186px;top:33px" width="10" height="10" viewBox="0 0 10 10"><circle cx="4.7" cy="4.6" r="4" fill="none" stroke="#ff8c1a" stroke-width="1"/><path d="M0.7 4.6h8M4.7 0.6v8" stroke="#ff8c1a" stroke-width="1"/></svg>
<svg class="full" style="left:203px;top:28px" width="13" height="14" viewBox="0 0 13 14"><rect x="1.5" y="1.5" width="11" height="12" rx="1" fill="none" stroke="#9a9a9a" stroke-width="1" opacity=".6"/><rect x="0.5" y="0.5" width="11" height="12" rx="1" fill="#fff" stroke="#000080"/><path d="M1.2 7.6L4.4 3.3L7.6 6.7L9.5 4.4H11" fill="none" stroke="#f00" stroke-width="1.1"/><path d="M1.2 10.6L4.4 6.5L7.6 9.5L9.5 7.2H11" fill="none" stroke="#00f" stroke-width="1.1"/></svg>
<div class="t" style="left:218px;top:29.5px;color:#000">MA1(55,0,0,0)</div>
<div class="t" style="left:302px;top:29.5px;color:#000">MA55:2696.54</div>
<div class="t" style="left:391px;top:29.5px;color:#0000b4">MA0:2917.22</div>
<div class="t" style="left:474px;top:29.5px;color:#ff10f0">MA0:2917.22</div>
<div class="t" style="left:557px;top:29.5px;color:#ff8000">MA0:2917.22</div>

<svg class="full" style="left:19px;top:709px" width="16" height="16" viewBox="0 0 16 16" shape-rendering="crispEdges"><rect x="6" y="4" width="4" height="1" fill="#000"/><rect x="6" y="11" width="4" height="1" fill="#000"/><rect x="4" y="6" width="1" height="4" fill="#000"/><rect x="11" y="6" width="1" height="4" fill="#000"/><rect x="5" y="5" width="1" height="1" fill="#000"/><rect x="10" y="5" width="1" height="1" fill="#000"/><rect x="5" y="10" width="1" height="1" fill="#000"/><rect x="10" y="10" width="1" height="1" fill="#000"/><rect x="7" y="6" width="2" height="1" fill="#f00"/><rect x="6" y="7" width="4" height="2" fill="#f00"/><rect x="7" y="9" width="2" height="1" fill="#f00"/><rect x="1" y="7" width="2" height="1" fill="#f00"/><rect x="13" y="7" width="2" height="1" fill="#f00"/><rect x="7" y="1" width="1" height="2" fill="#f00"/><rect x="7" y="13" width="1" height="2" fill="#f00"/><rect x="2" y="2" width="1" height="1" fill="#f00"/><rect x="3" y="3" width="1" height="1" fill="#f00"/><rect x="12" y="3" width="1" height="1" fill="#f00"/><rect x="13" y="2" width="1" height="1" fill="#f00"/><rect x="3" y="12" width="1" height="1" fill="#f00"/><rect x="2" y="13" width="1" height="1" fill="#f00"/><rect x="12" y="12" width="1" height="1" fill="#f00"/><rect x="13" y="13" width="1" height="1" fill="#f00"/></svg>
<div class="t" style="left:90px;top:713px;color:#000">MACD(13,8,9)</div>
<div class="t" style="left:173px;top:713px;color:#000">DIFF:29.29</div>
<div class="t" style="left:240px;top:713px;color:#0000b4">DEA:23.79</div>
<div class="t" style="left:306px;top:713px;color:#ff10f0">MACD:11.01</div>

<div class="t" style="left:32px;top:933px;font-size:12.3px;letter-spacing:0.6px;line-height:15px;font-weight:bold;color:#ff7a00">日线 <span style="font-size:16px;line-height:10px;margin-left:-2.5px;letter-spacing:0">▲</span></div>
<div class="t" style="left:1036.5px;top:892.6px;font-size:30px;line-height:34px;font-weight:normal;letter-spacing:2.6px;color:#dbe8f7;text-shadow:1px 1px 0.6px #a9a19b">FX678</div>
</body></html>
